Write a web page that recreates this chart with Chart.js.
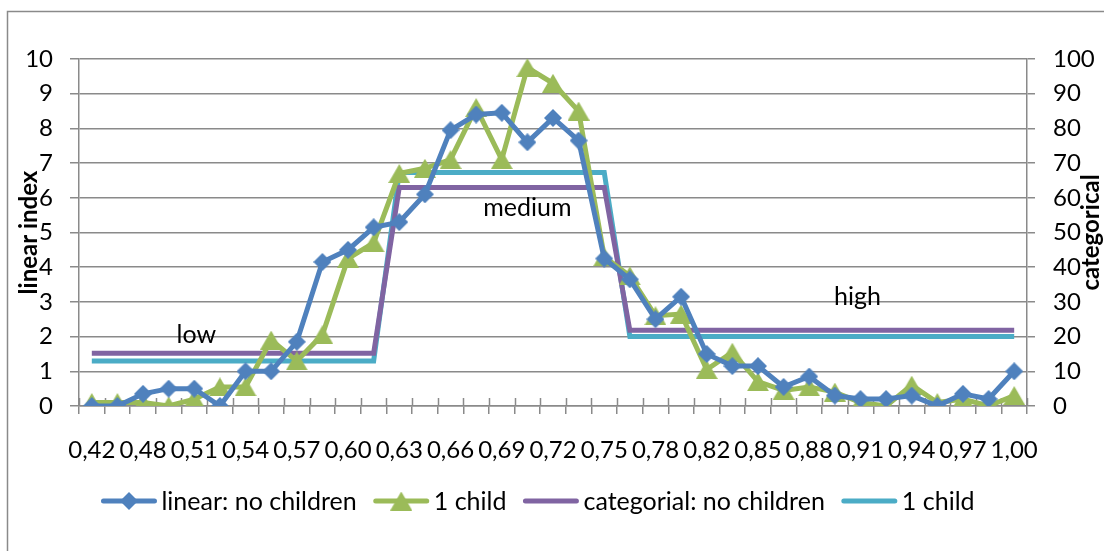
<!DOCTYPE html>
<html>
<head>
<meta charset="utf-8">
<script src="https://cdn.jsdelivr.net/npm/chart.js@4.4.1/dist/chart.umd.min.js"></script>
<style>
  html, body { margin: 0; padding: 0; background: #ffffff; }
  canvas { display: block; }
</style>
</head>
<body>
<canvas id="chart" width="1104" height="551"></canvas>
<script>
// Income-ratio categories on the x axis (every other one is labelled)
const categories = [
  '0,42', '0,45', '0,48', '0,49', '0,51', '0,53', '0,54', '0,56', '0,57', '0,59',
  '0,60', '0,62', '0,63', '0,65', '0,66', '0,68', '0,69', '0,71', '0,72', '0,74',
  '0,75', '0,77', '0,78', '0,80', '0,82', '0,83', '0,85', '0,86', '0,88', '0,90',
  '0,91', '0,93', '0,94', '0,96', '0,97', '0,99', '1,00'
];

// Linear index (left axis)
const linearNoChildren = [
  0, 0, 0.35, 0.5, 0.5, 0, 1.0, 1.0, 1.85, 4.15,
  4.5, 5.15, 5.3, 6.1, 7.95, 8.4, 8.45, 7.6, 8.3, 7.65,
  4.25, 3.65, 2.5, 3.15, 1.5, 1.15, 1.15, 0.55, 0.85, 0.3,
  0.2, 0.2, 0.3, 0, 0.35, 0.2, 1.0
];
const linearOneChild = [
  0.1, 0.1, 0.1, 0, 0.2, 0.55, 0.55, 1.9, 1.3, 2.05,
  4.25, 4.7, 6.7, 6.85, 7.1, 8.6, 7.1, 9.75, 9.3, 8.5,
  4.3, 3.75, 2.6, 2.65, 1.05, 1.55, 0.7, 0.45, 0.55, 0.4,
  0.1, 0, 0.6, 0.1, 0.2, 0, 0.3
];

// Categorical index (right axis)
const categorialNoChildren = [
  15.2, 15.2, 15.2, 15.2, 15.2, 15.2, 15.2, 15.2, 15.2, 15.2,
  15.2, 15.2, 63, 63, 63, 63, 63, 63, 63, 63,
  63, 21.8, 21.8, 21.8, 21.8, 21.8, 21.8, 21.8, 21.8, 21.8,
  21.8, 21.8, 21.8, 21.8, 21.8, 21.8, 21.8
];
const categorialOneChild = [
  13, 13, 13, 13, 13, 13, 13, 13, 13, 13,
  13, 13, 67.3, 67.3, 67.3, 67.3, 67.3, 67.3, 67.3, 67.3,
  67.3, 20, 20, 20, 20, 20, 20, 20, 20, 20,
  20, 20, 20, 20, 20, 20, 20
];

// Band names written next to the categorial line
const bandNames = ['low', 'medium', 'high'];
const bandCategory = [4, 17, 30];

const leftTitle = 'linear index';
const rightTitle = 'categorical';

const BLUE = '#4F81BD', GREEN = '#9BBB59', PURPLE = '#8064A2', CYAN = '#4BACC6';
const AXIS = '#8a8a8a';
const FONT = 'Lato, "Open Sans", sans-serif';

function diamondMarker(color, size) {
  const c = document.createElement('canvas');
  c.width = size; c.height = size;
  const g = c.getContext('2d');
  g.fillStyle = color;
  g.beginPath();
  g.moveTo(size / 2, 0); g.lineTo(size, size / 2);
  g.lineTo(size / 2, size); g.lineTo(0, size / 2);
  g.closePath(); g.fill();
  return c;
}
function triangleMarker(color, w, h) {
  const c = document.createElement('canvas');
  c.width = w; c.height = h;
  const g = c.getContext('2d');
  g.fillStyle = color;
  g.beginPath();
  g.moveTo(w / 2, 0); g.lineTo(w, h); g.lineTo(0, h);
  g.closePath(); g.fill();
  return c;
}
const diamond = diamondMarker(BLUE, 18);
const triangle = triangleMarker(GREEN, 22, 19);

// Outer frame and the upper half of the crossing x-axis tick marks
const framePlugin = {
  id: 'frame',
  beforeDraw(chart) {
    const ctx = chart.ctx;
    ctx.save();
    ctx.fillStyle = '#ffffff';
    ctx.fillRect(0, 0, chart.width, chart.height);
    ctx.strokeStyle = AXIS;
    ctx.lineWidth = 1.5;
    ctx.beginPath();
    ctx.moveTo(chart.width, 11.5);
    ctx.lineTo(7.5, 11.5);
    ctx.lineTo(7.5, chart.height);
    ctx.stroke();
    ctx.restore();
  },
  beforeDatasetsDraw(chart) {
    const ctx = chart.ctx, a = chart.chartArea;
    const step = (a.right - a.left) / categories.length;
    ctx.save();
    ctx.strokeStyle = AXIS;
    ctx.lineWidth = 1.5;
    ctx.beginPath();
    for (let i = 0; i <= categories.length; i++) {
      const px = Math.round(a.left + i * step) + 0.5;
      ctx.moveTo(px, a.bottom - 8);
      ctx.lineTo(px, a.bottom);
    }
    ctx.stroke();
    ctx.restore();
  }
};

// Axis titles, band names and the legend
const textPlugin = {
  id: 'texts',
  afterDraw(chart) {
    const ctx = chart.ctx, a = chart.chartArea;
    const midY = (a.top + a.bottom) / 2;
    ctx.save();
    ctx.fillStyle = '#000000';
    ctx.textAlign = 'center';
    ctx.textBaseline = 'middle';
    ctx.font = 'bold 24px ' + FONT;
    ctx.save(); ctx.translate(29, midY); ctx.rotate(-Math.PI / 2);
    ctx.fillText(leftTitle, 0, 0); ctx.restore();
    ctx.save(); ctx.translate(1091, midY); ctx.rotate(-Math.PI / 2);
    ctx.fillText(rightTitle, 0, 0); ctx.restore();

    // band names relative to the categorial line
    ctx.font = '25px ' + FONT;
    const meta = chart.getDatasetMeta(2);
    const offsets = [[2, -18], [0, 21], [-3, -33]];
    bandNames.forEach((name, k) => {
      const p = meta.data[bandCategory[k]];
      ctx.fillText(name, p.x + offsets[k][0], p.y + offsets[k][1]);
    });

    // legend
    const items = chart.data.datasets.map(d => ({
      label: d.label, color: d.borderColor,
      marker: d.pointRadius > 0 ? d.pointStyle : null
    }));
    const lineLen = 55, gapText = 5, gapItem = 17, y = 501;
    ctx.font = '25px ' + FONT;
    let total = 0;
    items.forEach((it, i) => {
      total += lineLen + gapText + ctx.measureText(it.label).width + (i < items.length - 1 ? gapItem : 0);
    });
    let x = 538 - total / 2;
    ctx.textAlign = 'left';
    items.forEach(it => {
      ctx.strokeStyle = it.color;
      ctx.lineWidth = 5;
      ctx.lineCap = 'round';
      ctx.beginPath();
      ctx.moveTo(x + 2, y); ctx.lineTo(x + lineLen - 2, y);
      ctx.stroke();
      if (it.marker) {
        const m = it.marker;
        ctx.drawImage(m, x + lineLen / 2 - m.width / 2, y - m.height / 2);
      }
      x += lineLen + gapText;
      ctx.fillStyle = '#000000';
      ctx.fillText(it.label, x, y + 1);
      x += ctx.measureText(it.label).width + gapItem;
    });
    ctx.restore();
  }
};

function build() {
  new Chart(document.getElementById('chart'), {
    type: 'line',
    data: {
      labels: categories,
      datasets: [
        {
          label: 'linear: no children', data: linearNoChildren, yAxisID: 'y',
          borderColor: BLUE, backgroundColor: BLUE, borderWidth: 5,
          pointStyle: diamond, pointRadius: 9, tension: 0
        },
        {
          label: '1 child', data: linearOneChild, yAxisID: 'y',
          borderColor: GREEN, backgroundColor: GREEN, borderWidth: 5,
          pointStyle: triangle, pointRadius: 9, tension: 0
        },
        {
          label: 'categorial: no children', data: categorialNoChildren, yAxisID: 'y2',
          borderColor: PURPLE, backgroundColor: PURPLE, borderWidth: 5,
          pointRadius: 0, tension: 0
        },
        {
          label: '1 child', data: categorialOneChild, yAxisID: 'y2',
          borderColor: CYAN, backgroundColor: CYAN, borderWidth: 5,
          pointRadius: 0, tension: 0
        }
      ]
    },
    options: {
      responsive: false,
      devicePixelRatio: 1,
      animation: false,
      events: [],
      layout: { padding: { top: 59, left: 0, right: 0, bottom: 0 } },
      plugins: { legend: { display: false }, tooltip: { enabled: false } },
      scales: {
        x: {
          type: 'category',
          offset: true,
          grid: { offset: true, drawOnChartArea: false, drawTicks: true, tickLength: 8, color: AXIS, lineWidth: 1.5 },
          border: { color: AXIS, width: 1.5 },
          ticks: {
            autoSkip: false, maxRotation: 0, minRotation: 0, padding: 22,
            color: '#000000', font: { family: FONT, size: 24 },
            callback: (v, i) => (i % 2 === 0 ? categories[i] : '')
          },
          afterFit: s => { s.height = 145; }
        },
        y: {
          position: 'left', min: 0, max: 10,
          grid: { color: AXIS, lineWidth: 1.5, tickLength: 9 },
          border: { color: AXIS, width: 1.5 },
          ticks: { stepSize: 1, padding: 17, color: '#000000', font: { family: FONT, size: 24 } },
          afterFit: s => { s.width = 79; }
        },
        y2: {
          position: 'right', min: 0, max: 100,
          grid: { drawOnChartArea: false, color: AXIS, lineWidth: 1.5, tickLength: 8 },
          border: { color: AXIS, width: 1.5 },
          ticks: { stepSize: 10, padding: 18, color: '#000000', font: { family: FONT, size: 24 } },
          afterFit: s => { s.width = 77; }
        }
      }
    },
    plugins: [framePlugin, textPlugin]
  });
}

Promise.all([
  document.fonts.load('24px Lato'),
  document.fonts.load('bold 24px Lato')
]).then(build, build);
</script>
</body>
</html>
